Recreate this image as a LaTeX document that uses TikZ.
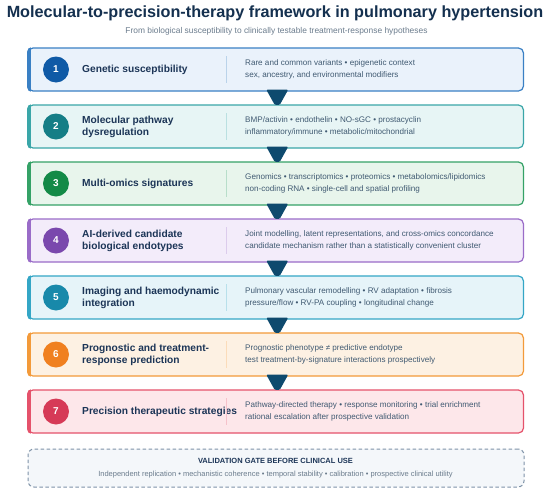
\documentclass[tikz,border=0pt]{standalone}
\usepackage{fontspec}
\setmainfont{Liberation Sans}
\usetikzlibrary{calc}
\definecolor{navy}{HTML}{14304F}
\definecolor{heading}{HTML}{1C3557}
\definecolor{bodytext}{HTML}{405A72}
\definecolor{subtext}{HTML}{6B7C8D}
\definecolor{arrowcol}{HTML}{0E4A6E}
\definecolor{sA}{HTML}{3A80C4}\definecolor{fA}{HTML}{EAF2FB}\definecolor{cA}{HTML}{0F5AA6}
\definecolor{sB}{HTML}{3AA6A8}\definecolor{fB}{HTML}{E7F5F5}\definecolor{cB}{HTML}{157E86}
\definecolor{sC}{HTML}{35A267}\definecolor{fC}{HTML}{E8F5EC}\definecolor{cC}{HTML}{138A47}
\definecolor{sD}{HTML}{9A6CC8}\definecolor{fD}{HTML}{F3ECFA}\definecolor{cD}{HTML}{7A48AD}
\definecolor{sE}{HTML}{34A6C6}\definecolor{fE}{HTML}{E6F4F9}\definecolor{cE}{HTML}{1889AA}
\definecolor{sF}{HTML}{F39A3A}\definecolor{fF}{HTML}{FDF1E3}\definecolor{cF}{HTML}{F08020}
\definecolor{sG}{HTML}{E5526B}\definecolor{fG}{HTML}{FDE7EA}\definecolor{cG}{HTML}{D63A57}
\definecolor{gateline}{HTML}{7F93A8}\definecolor{gatefill}{HTML}{F4F7FA}
\tikzset{
  stagebox/.style={rounded corners=5pt, line width=1.2pt, minimum width=495.5pt, minimum height=43pt, inner sep=0pt},
  numdot/.style={circle, minimum size=26pt, inner sep=0pt, text=white, font=\fontsize{10}{12}\selectfont\bfseries},
  stagetitle/.style={anchor=west, align=left, inner sep=0pt, text=heading, font=\fontsize{10.2}{12}\selectfont\bfseries},
  detail/.style={anchor=west, align=left, inner sep=0pt, text=bodytext, font=\fontsize{8.1}{11.5}\selectfont},
  divider/.style={line width=1.1pt},
  flow/.style={fill=arrowcol, rounded corners=1.2pt},
  gatebox/.style={rounded corners=6pt, dashed, dash pattern=on 3.5pt off 2.5pt, line width=1pt, draw=gateline, fill=gatefill, minimum width=496pt, minimum height=38pt, inner sep=0pt}
}
\newcommand\stagerow[8]{%
  \node[stagebox, draw=#3, fill=#4] (b#1) at (275.75,#2) {};
  \begin{scope}
    \clip[rounded corners=5.6pt] ($(b#1.south west)+(-0.6pt,-0.6pt)$) rectangle ($(b#1.north east)+(0.6pt,0.6pt)$);
    \fill[#3] ($(b#1.south west)+(-0.6pt,-0.6pt)$) rectangle ($(b#1.north west)+(3.6pt,0.6pt)$);
  \end{scope}
  \node[numdot, fill=#5] (n#1) at (56,#2) {#1};
  \node[stagetitle] (t#1) at (82,#2) {#6};
  \draw[divider, draw=#3!35] ($(b#1.north west)+(199.5pt,-9pt)$) -- ($(b#1.south west)+(199.5pt,9pt)$);
  \node[detail] (d#1) at (245,#2) {#7\\#8};
}
\newcommand\flowarrow[2]{%
  \fill[flow] ($(b#1.south)+(-9.5pt,2pt)$) -- ($(b#1.south)+(12.5pt,2pt)$) -- ($(b#2.north)+(4pt,-0.5pt)$) -- ($(b#2.north)+(-1pt,-0.5pt)$) -- cycle;
}
\begin{document}
\begin{tikzpicture}[x=1pt,y=-1pt]
\useasboundingbox[fill=white] (0,0) rectangle (550,493);
\node[text=navy, font=\fontsize{16.2}{19}\selectfont\bfseries, inner sep=0pt] (title) at (275,13) {Molecular-to-precision-therapy framework in pulmonary hypertension};
\node[text=subtext, font=\fontsize{8.4}{10}\selectfont, inner sep=0pt] (subtitle) at (276.5,31) {From biological susceptibility to clinically testable treatment-response hypotheses};

\stagerow{1}{69.5}{sA}{fA}{cA}{Genetic susceptibility}{Rare and common variants • epigenetic context}{sex, ancestry, and environmental modifiers}
\stagerow{2}{126.5}{sB}{fB}{cB}{Molecular pathway\\dysregulation}{BMP/activin • endothelin • NO-sGC • prostacyclin}{inflammatory/immune • metabolic/mitochondrial}
\stagerow{3}{183.5}{sC}{fC}{cC}{Multi-omics signatures}{Genomics • transcriptomics • proteomics • metabolomics/lipidomics}{non-coding RNA • single-cell and spatial profiling}
\stagerow{4}{240.5}{sD}{fD}{cD}{AI-derived candidate\\biological endotypes}{Joint modelling, latent representations, and cross-omics concordance}{candidate mechanism rather than a statistically convenient cluster}
\stagerow{5}{297.5}{sE}{fE}{cE}{Imaging and haemodynamic\\integration}{Pulmonary vascular remodelling • RV adaptation • fibrosis}{pressure/flow • RV-PA coupling • longitudinal change}
\stagerow{6}{354.5}{sF}{fF}{cF}{Prognostic and treatment-\\response prediction}{Prognostic phenotype ≠ predictive endotype}{test treatment-by-signature interactions prospectively}
\stagerow{7}{411.5}{sG}{fG}{cG}{Precision therapeutic strategies}{Pathway-directed therapy • response monitoring • trial enrichment}{rational escalation after prospective validation}

\flowarrow{1}{2}
\flowarrow{2}{3}
\flowarrow{3}{4}
\flowarrow{4}{5}
\flowarrow{5}{6}
\flowarrow{6}{7}

\node[gatebox] (gate) at (276,468) {};
\node[text=heading, font=\fontsize{7.5}{9}\selectfont\bfseries, inner sep=0pt] (gatetitle) at (275.5,461) {VALIDATION GATE BEFORE CLINICAL USE};
\node[text=subtext, font=\fontsize{7.5}{9}\selectfont, inner sep=0pt] (gatetext) at (275.5,474.5) {Independent replication • mechanistic coherence • temporal stability • calibration • prospective clinical utility};
\end{tikzpicture}
\end{document}
